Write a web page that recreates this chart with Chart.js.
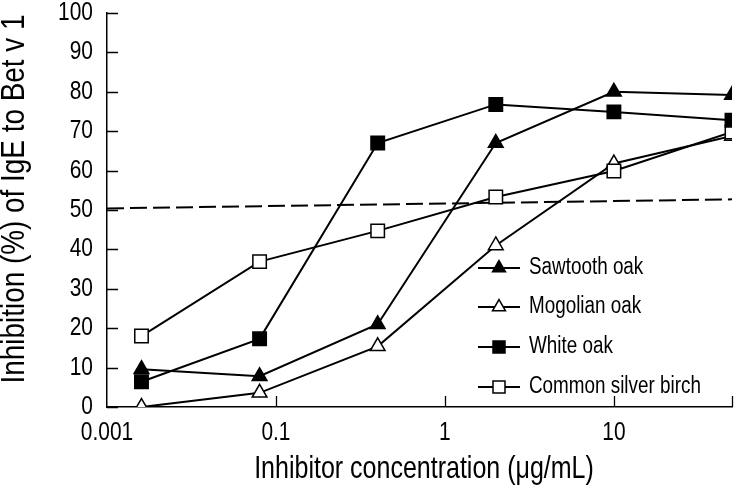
<!DOCTYPE html>
<html>
<head>
<meta charset="utf-8">
<script src="https://cdn.jsdelivr.net/npm/chart.js@4.4.1/dist/chart.umd.min.js"></script>
<style>
  html, body { margin: 0; padding: 0; background: #fff; }
  #wrap { width: 745px; height: 498px; position: relative; }
</style>
</head>
<body>
<div id="wrap"><canvas id="c"></canvas></div>
<script>
// Inhibition of IgE binding to Bet v 1 by oak / birch extracts

const concentrations = [0.016, 0.08, 0.4, 2, 10, 50];   // ug/mL, 5-fold dilutions
const sawtooth = [9.6, 7.8, 21, 67, 80, 79.2];
const mogolian = [0, 3.6, 15.4, 41, 61.8, 68.8];
const whiteOak = [6.4, 17.3, 67, 76.8, 74.9, 72.8];
const birch    = [18, 36.9, 44.7, 53.3, 59.9, 69.8];

// 50% reference line (slightly tilted in the original)
const refX = [0.01, 50];
const refY = [50.4, 52.7];

const xTicks = [0.01, 0.1, 1, 10];
const xTickLabels = ['0.001', '0.1', '1', '10'];   // first label as printed in the figure
const yTicks = [0, 10, 20, 30, 40, 50, 60, 70, 80, 90, 100];

// no condensed font installed -> squeeze Liberation Sans horizontally
const FONT = "'Liberation Sans', Arial, sans-serif";
const SQUEEZE = 0.82;

const toXY = (xs, ys) => xs.map((x, i) => ({ x: x, y: ys[i] }));

const series = [
  { label: 'Sawtooth oak',        data: sawtooth, style: 'triangle', fill: '#000', r: 8.5 },
  { label: 'Mogolian oak',        data: mogolian, style: 'triangle', fill: '#fff', r: 8.5 },
  { label: 'White oak',           data: whiteOak, style: 'rect',     fill: '#000', r: 9.5 },
  { label: 'Common silver birch', data: birch,    style: 'rect',     fill: '#fff', r: 9.5 }
];
const drawOrder = [3, 4, 1, 2]; // lower order drawn on top

const datasets = series.map((s, i) => ({
  label: s.label,
  data: toXY(concentrations, s.data),
  borderColor: '#000',
  borderWidth: 2,
  pointStyle: s.style,
  pointRadius: s.r,
  pointHoverRadius: s.r,
  pointBackgroundColor: s.fill,
  pointBorderColor: '#000',
  pointBorderWidth: 1.5,
  order: drawOrder[i],
  tension: 0
}));

datasets.push({
  label: 'ref',
  data: toXY(refX, refY),
  borderColor: '#000',
  borderWidth: 2,
  borderDash: [17, 6],
  pointRadius: 0,
  order: 10
});

function squeezedText(ctx, text, x, y, size, align, rotate) {
  ctx.save();
  ctx.translate(x, y);
  if (rotate) ctx.rotate(-Math.PI / 2);
  ctx.scale(SQUEEZE, 1);
  ctx.font = size + 'px ' + FONT;
  ctx.textAlign = align;
  ctx.textBaseline = 'middle';
  ctx.fillStyle = '#000';
  ctx.fillText(text, 0, 0);
  ctx.restore();
}

// inward tick marks, tick labels and axis titles
const axisDecor = {
  id: 'axisDecor',
  afterDatasetsDraw(chart) {
    const { ctx, scales: { x, y } } = chart;
    ctx.save();
    ctx.strokeStyle = '#000';
    ctx.lineWidth = 1.3;
    ctx.beginPath();
    yTicks.forEach(v => {
      const py = Math.round(y.getPixelForValue(v)) + 0.5;
      ctx.moveTo(x.left, py);
      ctx.lineTo(x.left + 11, py);
    });
    [0.1, 1, 10, 50].forEach(v => {
      const px = Math.round(x.getPixelForValue(v)) + 0.5;
      ctx.moveTo(px, y.bottom);
      ctx.lineTo(px, y.bottom - 11);
    });
    ctx.stroke();
    ctx.restore();

    yTicks.forEach(v => squeezedText(ctx, String(v), x.left - 14, y.getPixelForValue(v), 25.5, 'right'));
    xTicks.forEach((v, i) => squeezedText(ctx, xTickLabels[i], x.getPixelForValue(v), y.bottom + 26, 25.5, 'center'));
    squeezedText(ctx, 'Inhibitor concentration (\u03bcg/mL)', 424, 470, 30.5, 'center');
    squeezedText(ctx, 'Inhibition (%) of IgE to Bet v 1', 15, 199, 34, 'center', true);
  }
};

// legend placed inside the plot, lower right
const legendBox = {
  id: 'legendBox',
  afterDraw(chart) {
    const ctx = chart.ctx;
    const x0 = 478, x1 = 520, mx = 499, tx = 529;
    const rows = [268, 307, 347, 387];
    series.forEach((s, i) => {
      const yy = rows[i];
      ctx.save();
      ctx.strokeStyle = '#000';
      ctx.lineWidth = 2;
      ctx.beginPath();
      ctx.moveTo(x0, yy);
      ctx.lineTo(x1, yy);
      ctx.stroke();
      ctx.lineWidth = 1.5;
      ctx.fillStyle = s.fill;
      ctx.beginPath();
      if (s.style === 'triangle') {
        const r = 7.5;
        ctx.moveTo(mx, yy - r);
        ctx.lineTo(mx + r * 0.866, yy + r * 0.5);
        ctx.lineTo(mx - r * 0.866, yy + r * 0.5);
        ctx.closePath();
      } else {
        ctx.rect(mx - 6, yy - 6, 12, 12);
      }
      ctx.fill();
      ctx.stroke();
      ctx.restore();
      squeezedText(ctx, s.label, tx, yy, 23, 'left');
    });
  }
};

new Chart(document.getElementById('c'), {
  type: 'line',
  data: { datasets: datasets },
  plugins: [axisDecor, legendBox],
  options: {
    responsive: true,
    maintainAspectRatio: false,
    animation: false,
    layout: { padding: { top: 13, right: 13, left: 0, bottom: 0 } },
    plugins: {
      legend: { display: false },
      tooltip: { enabled: false }
    },
    scales: {
      x: {
        type: 'logarithmic',
        min: 0.01,
        max: 50,
        afterBuildTicks: s => { s.ticks = xTicks.map(v => ({ value: v })); },
        afterFit: s => { s.height = 91; s.paddingLeft = 0; s.paddingRight = 0; },
        grid: { display: false },
        border: { display: true, color: '#000', width: 1.5 },
        ticks: { display: false },
        title: { display: false }
      },
      y: {
        min: 0,
        max: 100,
        afterBuildTicks: s => { s.ticks = yTicks.map(v => ({ value: v })); },
        afterFit: s => { s.width = 107; s.paddingTop = 0; s.paddingBottom = 0; },
        grid: { display: false },
        border: { display: true, color: '#000', width: 1.5 },
        ticks: { display: false },
        title: { display: false }
      }
    }
  }
});
</script>
</body>
</html>
